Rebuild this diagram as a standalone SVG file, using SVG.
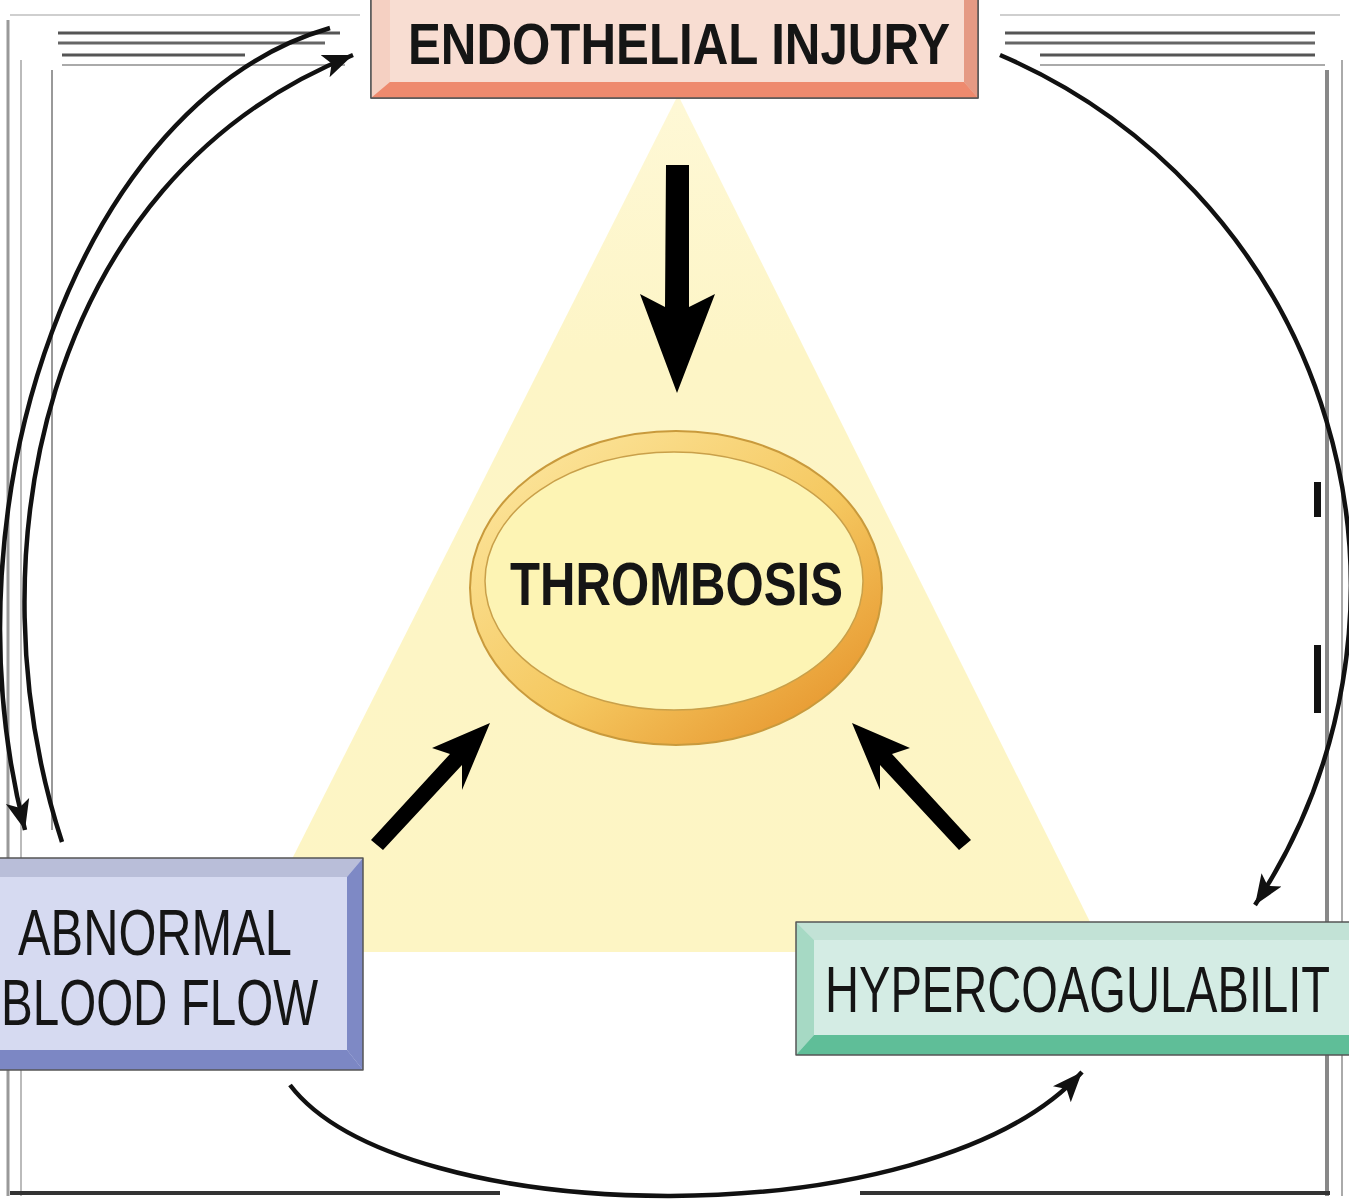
<svg xmlns="http://www.w3.org/2000/svg" width="1349" height="1200" viewBox="0 0 1349 1200">
<defs>
<style>
.lbl{font-family:"Liberation Sans",Arial,sans-serif;fill:#151515}
.arc{fill:none;stroke:#111;stroke-width:4.5;marker-end:url(#ah)}
.fat{fill:#000}
.fr{fill:none;stroke-linecap:butt}
.edge{stroke:#555;stroke-width:1.5;stroke-linejoin:round}
</style>
<marker id="ah" markerUnits="userSpaceOnUse" markerWidth="34" markerHeight="28" refX="30" refY="13" orient="auto">
<path d="M0,1 L30,13 L0,25 L7,13 Z" fill="#111"/>
</marker>
<linearGradient id="ring" x1="0" y1="0" x2="1" y2="1">
<stop offset="0" stop-color="#fdeaa6"/>
<stop offset="0.55" stop-color="#f5c860"/>
<stop offset="1" stop-color="#e38a22"/>
</linearGradient>
<linearGradient id="tri" x1="0" y1="0" x2="0" y2="1">
<stop offset="0" stop-color="#fef8d6"/>
<stop offset="0.3" stop-color="#fdf5c6"/>
<stop offset="1" stop-color="#fdf5c4"/>
</linearGradient>
</defs>
<rect width="1349" height="1200" fill="#fff"/>

<g id="frame">
<path class="fr" stroke="#cfcfcf" stroke-width="2" d="M10 15H360M1000 15H1340"/>
<path class="fr" stroke="#555" stroke-width="3" d="M58 33H340M1005 33H1315"/>
<path class="fr" stroke="#666" stroke-width="3" d="M58 43H325M1005 43H1315"/>
<path class="fr" stroke="#555" stroke-width="3" d="M62 55H245M1040 55H1315"/>
<path class="fr" stroke="#aaa" stroke-width="2" d="M62 65H345M1040 65H1325"/>
<path class="fr" stroke="#999" stroke-width="3" d="M8 20V1196"/>
<path class="fr" stroke="#bbb" stroke-width="2" d="M21 60V1196"/>
<path class="fr" stroke="#999" stroke-width="2" d="M52 70V830"/>
<path class="fr" stroke="#888" stroke-width="4" d="M1327 70V1196"/>
<path class="fr" stroke="#aaa" stroke-width="2" d="M1342 60V1196"/>
<path class="fr" stroke="#333" stroke-width="4" d="M10 1193H500M860 1193H1330"/>
<rect x="1314" y="482" width="7" height="35" fill="#111"/>
<rect x="1314" y="645" width="7" height="68" fill="#111"/>
</g>

<polygon id="triad" points="678,95 1105,952 245,952" fill="url(#tri)"/>

<g id="connectors">
<path class="arc" d="M62 842 C-30 560 40 180 353 55"/>
<path class="arc" d="M330 28 C80 100 -60 500 25 830"/>
<path class="arc" d="M1000 55 A578 578 0 0 1 1255 905"/>
<path class="arc" d="M290 1085 C400 1230 930 1240 1082 1072"/>
<polygon class="fat" points="666,165 689,165 689,307 715,294 677,393 640,294 665,307"/>
<polygon class="fat" points="371,840 450,754 432,748 490,723 462,790 462,765 383,850"/>
<polygon class="fat" points="971,840 892,754 910,748 852,723 880,790 880,765 959,850"/>
</g>

<g id="node-endothelial">
<rect x="371" y="-2" width="607" height="100" fill="#f3c7b7" class="edge"/>
<polygon points="371,-2 390,-2 390,82 371,98" fill="#f5d0c2"/>
<polygon points="964,-2 978,-2 978,98 964,82" fill="#e59a84"/>
<polygon points="371,98 390,82 964,82 978,98" fill="#ee8a6e"/>
<rect x="390" y="-2" width="574" height="84" fill="#f8ddd2"/>
<rect x="371" y="-2" width="607" height="100" fill="none" class="edge"/>
<text class="lbl" x="408" y="64" font-size="58" font-weight="bold" textLength="542" lengthAdjust="spacingAndGlyphs">ENDOTHELIAL INJURY</text>
</g>

<g id="node-thrombosis">
<ellipse cx="676" cy="588" rx="206" ry="157" fill="url(#ring)" stroke="#c99a3c" stroke-width="2"/>
<ellipse cx="674" cy="581" rx="189" ry="129" fill="#fdf4b4" stroke="#c9a04a" stroke-width="1.5"/>
<text class="lbl" x="510" y="605" font-size="62" font-weight="bold" textLength="333" lengthAdjust="spacingAndGlyphs">THROMBOSIS</text>
</g>

<g id="node-abnormal">
<rect x="-20" y="858" width="383" height="212" fill="#d6daf1"/>
<polygon points="-20,858 363,858 347,877 -20,877" fill="#b9bed9"/>
<polygon points="363,858 363,1070 347,1050 347,877" fill="#7e89c5"/>
<polygon points="-20,1070 363,1070 347,1050 -20,1050" fill="#7c87c4"/>
<rect x="-20" y="858" width="383" height="212" fill="none" class="edge"/>
<text class="lbl" x="18" y="955" font-size="64" textLength="274" lengthAdjust="spacingAndGlyphs">ABNORMAL</text>
<text class="lbl" x="1" y="1025" font-size="64" textLength="317" lengthAdjust="spacingAndGlyphs">BLOOD FLOW</text>
</g>

<g id="node-hyper">
<rect x="796" y="922" width="553" height="133" fill="#d4ece4"/>
<polygon points="796,922 1349,922 1349,940 814,940" fill="#c2e2d6"/>
<polygon points="796,922 814,940 814,1035 796,1055" fill="#a6d9c4"/>
<polygon points="796,1055 814,1035 1349,1035 1349,1055" fill="#5fbe98"/>
<path d="M1349 922H796V1055H1349" fill="none" class="edge"/>
<text class="lbl" x="825" y="1012" font-size="64" textLength="505" lengthAdjust="spacingAndGlyphs">HYPERCOAGULABILIT</text>
</g>
</svg>
